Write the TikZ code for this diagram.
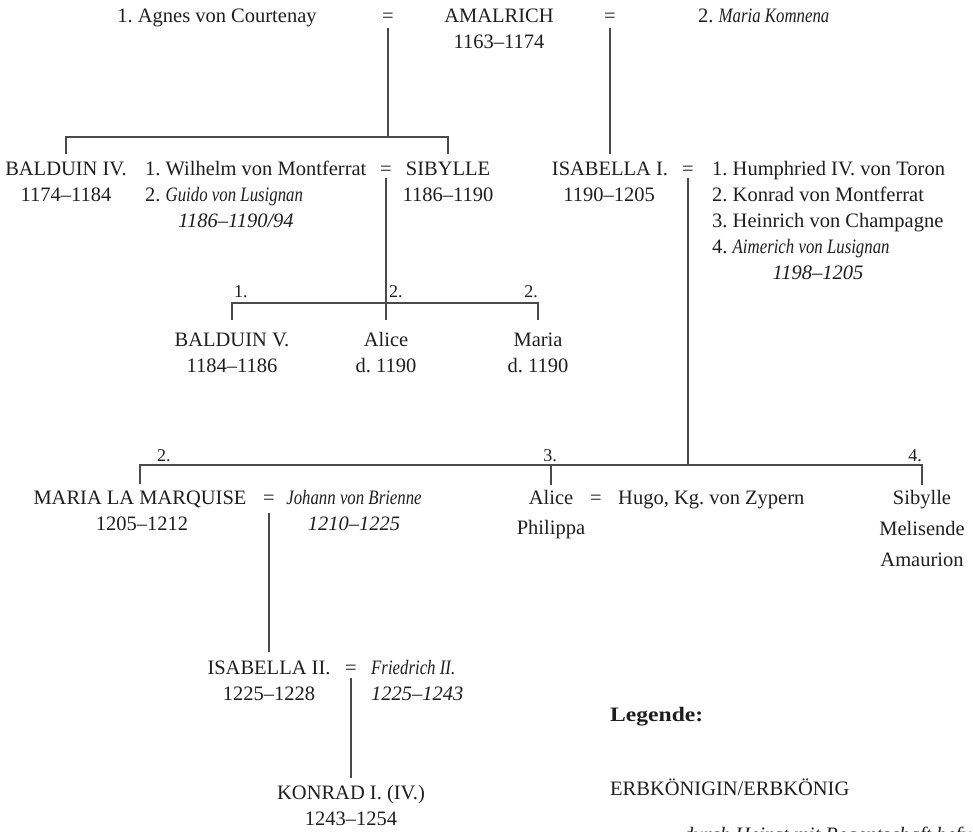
\documentclass[tikz,border=0pt]{standalone}
\usepackage{fontspec}
\usepackage{graphicx}
\setmainfont{Liberation Serif}
\frenchspacing
\definecolor{ink}{HTML}{1E1E1E}
\definecolor{linec}{HTML}{4A4A4A}
\newcommand\fsmain{\fontsize{20.5}{26}\selectfont\frenchspacing}
\newcommand\fsnum{\fontsize{18}{22}\selectfont}
\newcommand\itn[1]{\scalebox{0.82}[1]{\itshape #1}}
\tikzset{
  txt/.style={inner sep=0pt, anchor=base, text=ink, font=\fsmain},
  txtl/.style={txt, anchor=base west},
  num/.style={inner sep=0pt, anchor=base, text=ink, font=\fsnum},
  ln/.style={draw=linec, line width=1.2pt}
}
\begin{document}
\begin{tikzpicture}[x=1pt,y=-1pt]
\useasboundingbox (0,0) rectangle (973,831);
\clip (0,0) rectangle (973,831);
% row 1
\node[txt] (agnes) at (217,22) {1. Agnes von Courtenay};
\node[txt] (eqA) at (388,22) {=};
\node[txt] (amal) at (499,22) {AMALRICH};
\node[txt] (amald) at (499,48) {1163–1174};
\node[txt] (eqB) at (610,22) {=};
\node[txtl] (komn) at (698,22) {2. \itn{Maria Komnena}};
% row 2
\node[txt] (baldIV) at (66,175) {BALDUIN IV.};
\node[txt] (baldIVd) at (66,201) {1174–1184};
\node[txtl] (wilh) at (145,175) {1. Wilhelm von Montferrat};
\node[txtl] (guido) at (145,201) {2. \itn{Guido von Lusignan}};
\node[txt] (guidod) at (236,227) {\itshape 1186–1190/94};
\node[txt] (eqC) at (386,175) {=};
\node[txt] (sib) at (448,175) {SIBYLLE};
\node[txt] (sibd) at (448,201) {1186–1190};
\node[txt] (isa1) at (610,175) {ISABELLA I.};
\node[txt] (isa1d) at (609,201) {1190–1205};
\node[txt] (eqD) at (688,175) {=};
\node[txtl] (h1) at (712,175) {1. Humphried IV. von Toron};
\node[txtl] (h2) at (712,201) {2. Konrad von Montferrat};
\node[txtl] (h3) at (712,227) {3. Heinrich von Champagne};
\node[txtl] (h4) at (712,253) {4. \itn{Aimerich von Lusignan}};
\node[txt] (h4d) at (818,279) {\itshape 1198–1205};
% row 3
\coordinate (b1) at (388,137);
\coordinate (b2) at (386,303);
\node[num, anchor=base west] (n1) at (234,297) {1.};
\node[num, anchor=base west] (n2) at (389,297) {2.};
\node[num, anchor=base east] (n3) at (538,297) {2.};
\node[txt] (bald5) at (232,346) {BALDUIN V.};
\node[txt] (bald5d) at (232,372) {1184–1186};
\node[txt] (alice1) at (386,346) {Alice};
\node[txt] (alice1d) at (386,372) {d. 1190};
\node[txt] (maria1) at (538,346) {Maria};
\node[txt] (maria1d) at (538,372) {d. 1190};
% row 4
\coordinate (b3) at (688,465);
\node[num, anchor=base west] (m2) at (157,461) {2.};
\node[num] (m3) at (550,461) {3.};
\node[num, anchor=base east] (m4) at (922,461) {4.};
\node[txt] (marq) at (140,504) {MARIA LA MARQUISE};
\node[txt] (marqd) at (142,530) {1205–1212};
\node[txt] (eqE) at (269,504) {=};
\node[txt] (joh) at (354,504) {\itn{Johann von Brienne}};
\node[txt] (johd) at (354,530) {\itshape 1210–1225};
\node[txt] (alice2) at (551,504) {Alice};
\node[txt] (phil) at (551,534) {Philippa};
\node[txt] (eqF) at (596,504) {=};
\node[txtl] (hugo) at (618,504) {Hugo, Kg. von Zypern};
\node[txt] (sib2) at (922,504) {Sibylle};
\node[txt] (mel) at (922,535) {Melisende};
\node[txt] (amau) at (922,566) {Amaurion};
% row 5
\node[txt] (isa2) at (269,674) {ISABELLA II.};
\node[txt] (isa2d) at (269,700) {1225–1228};
\node[txt] (eqG) at (351,674) {=};
\node[txtl] (fried) at (371,674) {\itn{Friedrich II.}};
\node[txtl] (friedd) at (371,700) {\itshape 1225–1243};
\node[txt] (konrad) at (351,799) {KONRAD I. (IV.)};
\node[txt] (konradd) at (351,825) {1243–1254};
% legend
\node[txtl, font=\fsmain\bfseries] (leg) at (610,721) {\scalebox{1.15}[1]{Legende:}};
\node[txtl] (erb) at (610,795) {ERBKÖNIGIN/ERBKÖNIG};
\node[txtl] (legit) at (683,841) {\itshape durch Heirat mit Regentschaft befugt};
% connectors
\draw[ln] ([yshift=-6pt]eqA.base) -- (b1);
\draw[ln] ([yshift=7pt]baldIV.north) |- (b1) -| ([yshift=7pt]sib.north);
\draw[ln] ([yshift=-6pt]eqB.base) -- ([yshift=7pt]isa1.north);
\draw[ln] ([yshift=-3pt]eqC.base) -- ([yshift=12pt]alice1.north);
\draw[ln] ([yshift=12pt]bald5.north) |- (b2) -| ([yshift=12pt]maria1.north);
\draw[ln] ([yshift=-3pt]eqD.base) -- (b3);
\draw[ln] ([yshift=6pt]marq.north) |- (b3) -| ([yshift=5pt]sib2.north);
\draw[ln] (b3 -| alice2) -- ([yshift=5pt]alice2.north);
\draw[ln] ([yshift=-9pt]eqE.base) -- ([yshift=8pt]isa2.north);
\draw[ln] ([yshift=-4pt]eqG.base) -- ([yshift=7pt]konrad.north);
\end{tikzpicture}
\end{document}
